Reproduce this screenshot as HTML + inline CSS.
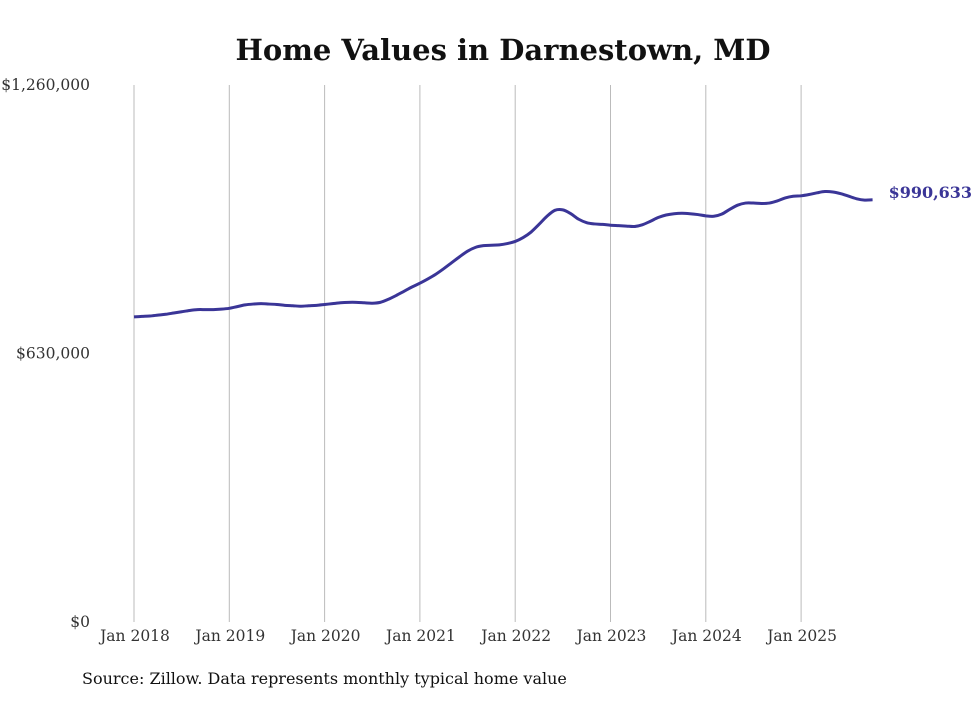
<!DOCTYPE html>
<html><head><meta charset="utf-8"><style>
body{margin:0;background:#fff;}
svg text{font-family:"DejaVu Serif","Liberation Serif",serif;}
</style></head><body>
<svg width="980" height="699" xmlns="http://www.w3.org/2000/svg">
<text x="503" y="60" text-anchor="middle" font-size="29" font-weight="bold" fill="#111">Home Values in Darnestown, MD</text>
<g id="grid"></g><g id="yt"></g><g id="xt"></g>
<path id="line" fill="none" stroke="#3a3597" stroke-width="3" stroke-linejoin="round"/>
<text id="endlabel" font-size="16" font-weight="bold" fill="#3a3597"></text>
<text x="82" y="684" font-size="16" fill="#111">Source: Zillow. Data represents monthly typical home value</text>
</svg>
<script>
const years=["Jan 2018","Jan 2019","Jan 2020","Jan 2021","Jan 2022","Jan 2023","Jan 2024","Jan 2025"];
const yTicks=[0,630000,1260000];
const yTickLabels=["$0","$630,000","$1,260,000"];
const valuesK=[716,717,718,720,722,725,728,731,733,733,733,734,
736,740,744,746,747,746,745,743,742,741,742,743,
745,747,749,750,750,749,748,750,757,766,776,786,
795,805,816,829,843,857,870,879,883,884,885,888,
893,902,915,933,952,966,967,958,945,937,934,933,
931,930,929,928,932,940,949,955,958,959,958,956,
953,952,957,968,978,983,983,982,983,988,995,999,
1000,1003,1007,1010,1009,1005,999,993,990,990.633];
const NS="http://www.w3.org/2000/svg";
const x=m=>134+m*95.3/12;
const y=v=>622-v/1260000*537;
const grid=document.getElementById('grid'),xt=document.getElementById('xt'),yt=document.getElementById('yt');
years.forEach((lab,i)=>{
 const l=document.createElementNS(NS,'line');
 l.setAttribute('x1',x(i*12));l.setAttribute('x2',x(i*12));l.setAttribute('y1',85);l.setAttribute('y2',622);
 l.setAttribute('stroke','#bbb');l.setAttribute('stroke-width','1');
 
 
 grid.appendChild(l);
 const t=document.createElementNS(NS,'text');
 t.setAttribute('x',x(i*12)+1);t.setAttribute('y',641);t.setAttribute('text-anchor','middle');
 t.setAttribute('font-size','15.5');t.setAttribute('fill','#333');t.textContent=lab;
 
 
 xt.appendChild(t);
});
yTicks.forEach((v,i)=>{
 const t=document.createElementNS(NS,'text');
 t.setAttribute('x',90);t.setAttribute('y',y(v)+5);t.setAttribute('text-anchor','end');
 t.setAttribute('font-size','15.5');t.setAttribute('fill','#333');t.textContent=yTickLabels[i];
 
 
 yt.appendChild(t);
});
const pts=valuesK.map((v,i)=>[x(i),y(v*1000)]);
let d='M'+pts[0][0]+','+pts[0][1];
for(let i=1;i<pts.length;i++){
 const p0=pts[i-2]||pts[i-1],p1=pts[i-1],p2=pts[i],p3=pts[i+1]||p2;
 d+=' C'+(p1[0]+(p2[0]-p0[0])/6)+','+(p1[1]+(p2[1]-p0[1])/6)+' '+(p2[0]-(p3[0]-p1[0])/6)+','+(p2[1]-(p3[1]-p1[1])/6)+' '+p2[0]+','+p2[1];
}
document.getElementById('line').setAttribute('d',d);
const last=valuesK[valuesK.length-1]*1000;
const el=document.getElementById('endlabel');
el.setAttribute('x',x(valuesK.length-1)+16);el.setAttribute('y',y(last)-2);
el.textContent='$'+Math.round(last).toLocaleString('en-US');
</script>
</body></html>
